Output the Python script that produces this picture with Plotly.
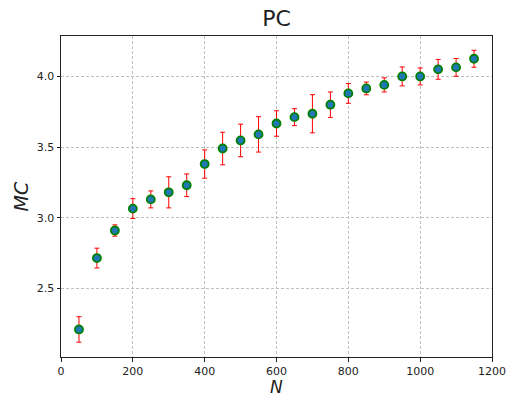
import plotly.graph_objects as go

N = [50, 100, 150, 200, 250, 300, 350, 400, 450, 500, 550, 600,
     650, 700, 750, 800, 850, 900, 950, 1000, 1050, 1100, 1150]
MC = [2.21, 2.715, 2.91, 3.065, 3.13, 3.18, 3.23, 3.38, 3.49, 3.547, 3.59, 3.667,
      3.712, 3.736, 3.80, 3.88, 3.915, 3.94, 4.00, 4.00, 4.05, 4.064, 4.125]
ERR = [0.09, 0.07, 0.04, 0.07, 0.06, 0.11, 0.08, 0.10, 0.115, 0.115, 0.125, 0.09,
       0.06, 0.135, 0.09, 0.07, 0.045, 0.05, 0.067, 0.06, 0.07, 0.063, 0.06]
XTICKS = [0, 200, 400, 600, 800, 1000, 1200]
YTICKS = [2.5, 3.0, 3.5, 4.0]

W, H = 509, 398
ML, MR, MT, MB = 61, 17, 36, 41
PW, PH = W - ML - MR, H - MT - MB

fig = go.Figure()
fig.add_trace(go.Scatter(
    x=N, y=MC, mode="markers",
    marker=dict(color="#1f77b4", size=8, line=dict(color="green", width=1.8)),
    error_y=dict(type="data", array=ERR, color="red", thickness=1, width=2.5),
))

axis_common = dict(
    showline=True, mirror=True, linecolor="#222", linewidth=1,
    ticks="outside", ticklen=3.5, tickcolor="#222", tickwidth=1,
    showgrid=True, gridcolor="#c0c0c0", griddash="3px,2px", gridwidth=0.8,
    zeroline=False, automargin=False,
    tickfont=dict(family="DejaVu Sans", size=11, color="#222"),
)

fig.update_layout(
    width=W, height=H,
    margin=dict(l=ML, r=MR, t=MT, b=MB),
    plot_bgcolor="white", paper_bgcolor="white",
    showlegend=False,
    title=dict(text="PC", x=0.5, xanchor="center", xref="paper",
               y=1 - 18 / H, yref="container", yanchor="middle",
               font=dict(family="DejaVu Sans", size=22, color="#222")),
    xaxis=dict(range=[0, 1200], tickvals=XTICKS, **axis_common),
    yaxis=dict(range=[2.015, 4.286], tickvals=YTICKS, tickformat=".1f",
               **axis_common),
    annotations=[
        dict(text="<i>N</i>", xref="paper", yref="paper", x=0.5,
             y=-(MB - 0.5) / PH, xanchor="center", yanchor="bottom",
             borderpad=0, showarrow=False,
             font=dict(family="DejaVu Sans", size=17, color="#222")),
        dict(text="<i>MC</i>", xref="paper", yref="paper",
             x=(20 - ML) / PW, y=0.5, xanchor="center", yanchor="middle",
             textangle=-90, showarrow=False,
             font=dict(family="DejaVu Sans", size=19, color="#222")),
    ],
)

fig.write_html("out.html")
